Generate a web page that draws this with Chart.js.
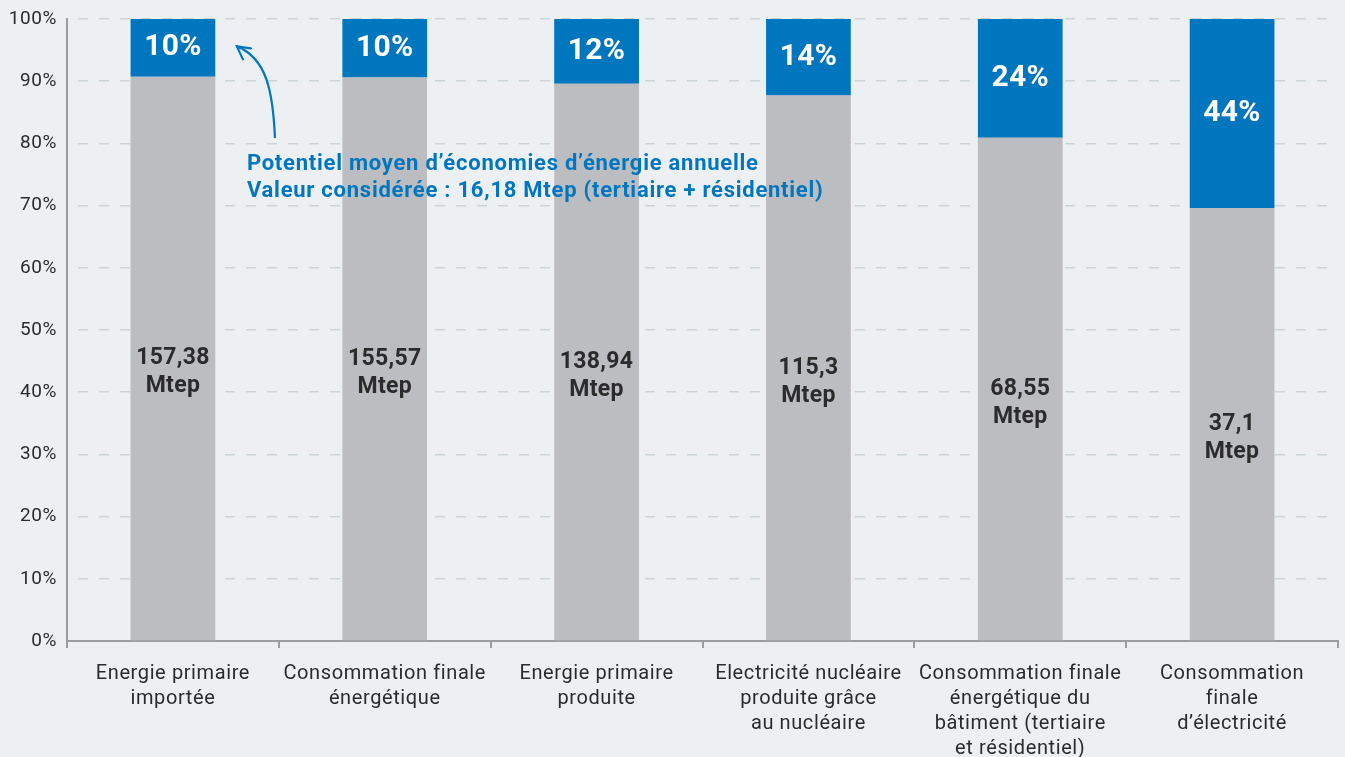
<!DOCTYPE html>
<html><head><meta charset="utf-8">
<script src="https://cdn.jsdelivr.net/npm/chart.js@4.4.1/dist/chart.umd.min.js"></script>
<style>html,body{margin:0;padding:0;background:#edf0f3;}#wrap{width:1345px;height:757px;}</style>
</head><body><div id="wrap"><canvas id="c" width="1345" height="757"></canvas></div>
<script>
const categories = [
  ['Energie primaire','importée'],
  ['Consommation finale','énergétique'],
  ['Energie primaire','produite'],
  ['Electricité nucléaire','produite grâce','au nucléaire'],
  ['Consommation finale','énergétique du','bâtiment (tertiaire','et résidentiel)'],
  ['Consommation','finale','d’électricité']
];
const consumptionShare = [90.7, 90.6, 89.6, 87.7, 80.9, 69.6];
const savingsShare = [9.3, 9.4, 10.4, 12.3, 19.1, 30.4];
const savingsLabels = ['10%','10%','12%','14%','24%','44%'];
const consumptionLabels = [['157,38','Mtep'],['155,57','Mtep'],['138,94','Mtep'],['115,3','Mtep'],['68,55','Mtep'],['37,1','Mtep']];
const yTicks = [0,10,20,30,40,50,60,70,80,90,100];
const annotationLines = ['Potentiel moyen d’économies d’énergie annuelle','Valeur considérée : 16,18 Mtep (tertiaire + résidentiel)'];

const FONT = 'Roboto, "DejaVu Sans", sans-serif';
const BLUE = '#0076bf';

const spacingPlugin = {
  id: 'spacing',
  beforeLayout(chart) { chart.ctx.letterSpacing = '0.6px'; },
  beforeDraw(chart) { chart.ctx.letterSpacing = '0.6px'; }
};

const labelPlugin = {
  id: 'labels',
  afterDatasetsDraw(chart) {
    const ctx = chart.ctx;
    const m0 = chart.getDatasetMeta(0), m1 = chart.getDatasetMeta(1);
    ctx.save();
    ctx.textAlign = 'center';
    ctx.textBaseline = 'middle';
    ctx.letterSpacing = '0.3px';
    m0.data.forEach((bar, i) => {
      const mid = (bar.y + bar.base) / 2 + 14;
      ctx.fillStyle = '#2b2b2b';
      ctx.font = 'bold 23px ' + FONT;
      const lines = consumptionLabels[i];
      lines.forEach((t, k) => ctx.fillText(t, bar.x, mid + (k - (lines.length - 1) / 2) * 28));
    });
    m1.data.forEach((bar, i) => {
      const mid = (bar.y + bar.base) / 2;
      ctx.fillStyle = '#ffffff';
      ctx.font = 'bold 30px ' + FONT;
      ctx.fillText(savingsLabels[i], bar.x, mid);
    });
    // annotation arrow
    const xs = chart.scales.x, ys = chart.scales.y;
    const bx = xs.getPixelForValue(0);
    const sx = bx + 102, sy = ys.getPixelForValue(81.0);
    const ex = bx + 64, ey = ys.getPixelForValue(95.6);
    ctx.strokeStyle = BLUE;
    ctx.lineWidth = 2.2;
    ctx.lineCap = 'round';
    ctx.beginPath();
    ctx.moveTo(sx, sy);
    ctx.bezierCurveTo(sx - 2, sy - 45, sx - 8, ey + 12, ex, ey);
    ctx.stroke();
    ctx.beginPath();
    ctx.moveTo(ex + 14, ey + 2);
    ctx.lineTo(ex, ey);
    ctx.lineTo(ex + 6, ey + 13);
    ctx.stroke();
    ctx.fillStyle = BLUE;
    ctx.font = 'bold 22px ' + FONT;
    ctx.letterSpacing = '0.75px';
    ctx.textAlign = 'left';
    ctx.textBaseline = 'alphabetic';
    const tx = bx + 74;
    ctx.fillText(annotationLines[0], tx, ys.getPixelForValue(75.8));
    ctx.fillText(annotationLines[1], tx, ys.getPixelForValue(71.4));
    ctx.restore();
  }
};

new Chart(document.getElementById('c'), {
  type: 'bar',
  data: {
    labels: categories,
    datasets: [
      { data: consumptionShare, backgroundColor: '#bcbdc0', barPercentage: 0.4, categoryPercentage: 1 },
      { data: savingsShare, backgroundColor: BLUE, barPercentage: 0.4, categoryPercentage: 1 }
    ]
  },
  options: {
    responsive: false,
    animation: false,
    devicePixelRatio: 1,
    layout: { padding: { top: 19, right: 7, left: 0, bottom: 0 } },
    plugins: { legend: { display: false }, tooltip: { enabled: false } },
    scales: {
      x: {
        stacked: true,
        offset: true,
        grid: { display: true, drawOnChartArea: false, drawTicks: true, tickLength: 7, color: '#9a9c9e', lineWidth: 2, offset: true },
        border: { display: true, color: '#9a9c9e', width: 2 },
        ticks: { color: '#2b2b2b', font: { family: FONT, size: 20, lineHeight: 1.25 }, padding: 13, maxRotation: 0, autoSkip: false },
        afterFit(s) { s.height = 116; }
      },
      y: {
        stacked: true,
        min: 0, max: 100,
        afterBuildTicks(s) { s.ticks = yTicks.map(v => ({ value: v })); },
        grid: { color: '#c9d5da', lineWidth: 1.5, drawTicks: false },
        border: { display: true, color: '#9a9c9e', width: 2, dash: [10, 11], dashOffset: -10 },
        ticks: { color: '#2b2b2b', font: { family: FONT, size: 19 }, padding: 10, callback: v => v + '%' },
        afterFit(s) { s.width = 67; s.paddingTop = 0; s.paddingBottom = 0; }
      }
    }
  },
  plugins: [spacingPlugin, labelPlugin]
});
</script>
</body></html>
